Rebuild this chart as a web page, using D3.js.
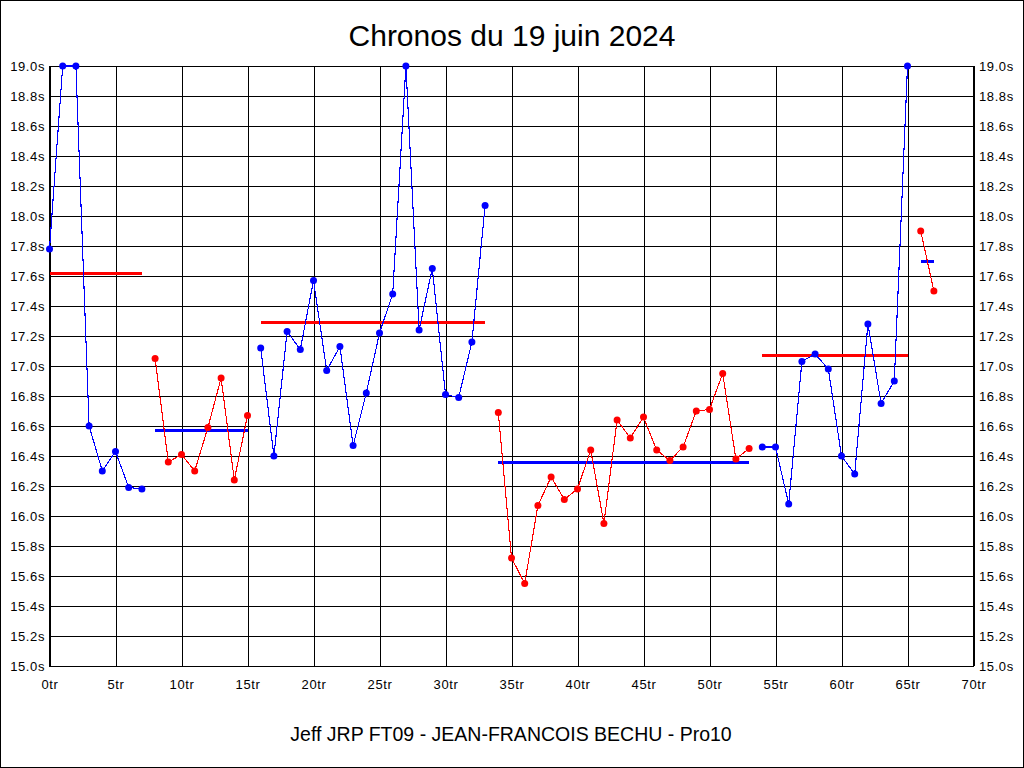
<!DOCTYPE html>
<html>
<head>
<meta charset="utf-8">
<script src="https://cdn.jsdelivr.net/npm/d3@7"></script>
<style>
  html, body { margin: 0; padding: 0; background: #fff; }
  svg { display: block; }
  .tick text { font-family: "Liberation Sans", Arial, sans-serif; font-size: 13px; letter-spacing: 0.6px; fill: #000; }
</style>
</head>
<body>
<script>
// ---- data ----
const chartTitle = "Chronos du 19 juin 2024";
const chartFooter = "Jeff JRP FT09 - JEAN-FRANCOIS BECHU - Pro10";

// lap time (seconds) by lap number 0..67
const lapTimes = [
  17.78, 19.00, 19.00, 16.60, 16.30, 16.43, 16.19, 16.18,            // stint 1 (laps 0-7)
  17.05, 16.36, 16.41, 16.30, 16.59, 16.92, 16.24, 16.67,            // stint 2 (laps 8-15)
  17.12, 16.40, 17.23, 17.11, 17.57, 16.97, 17.13, 16.47, 16.82,     // stint 3 (laps 16-33)
  17.22, 17.48, 19.00, 17.24, 17.65, 16.81, 16.79, 17.16, 18.07,
  16.69, 15.72, 15.55, 16.07, 16.26, 16.11, 16.18, 16.44, 15.95,     // stint 4 (laps 34-53)
  16.64, 16.52, 16.66, 16.44, 16.37, 16.46, 16.70, 16.71, 16.95, 16.38, 16.45,
  16.46, 16.46, 16.08, 17.03, 17.08, 16.98, 16.40, 16.28, 17.28,     // stint 5 (laps 54-65)
  16.75, 16.90, 19.00,
  17.90, 17.50                                                         // stint 6 (laps 66-67)
];
const stintFirstLap = [0, 8, 16, 34, 54, 66];
const stintLastLap  = [7, 15, 33, 53, 65, 67];
const stintAverage  = [17.62, 16.57, 17.29, 16.36, 17.07, 17.70];

const xTickValues = [0, 5, 10, 15, 20, 25, 30, 35, 40, 45, 50, 55, 60, 65, 70];
const yTickValues = [15.0, 15.2, 15.4, 15.6, 15.8, 16.0, 16.2, 16.4, 16.6, 16.8, 17.0,
                     17.2, 17.4, 17.6, 17.8, 18.0, 18.2, 18.4, 18.6, 18.8, 19.0];
const xDomain = [0, 70];
const yDomain = [15.0, 19.0];

// ---- layout ----
const W = 1024, H = 768;
const m = { left: 49, right: 1024 - 973, top: 66, bottom: 768 - 666 };
const pw = W - m.left - m.right, ph = H - m.top - m.bottom;
const colA = "#0000ff", colB = "#ff0000";

const svg = d3.select("body").append("svg").attr("width", W).attr("height", H);
svg.append("rect").attr("x", 0.5).attr("y", 0.5).attr("width", W - 1).attr("height", H - 1)
  .attr("fill", "#fff").attr("stroke", "#000").attr("stroke-width", 1);

const x = d3.scaleLinear().domain(xDomain).range([m.left + 0.5, m.left + pw + 0.5]);
const y = d3.scaleLinear().domain(yDomain).range([m.top + ph, m.top]);

const fmtY = v => d3.format(".1f")(v) + "s";
const fmtX = v => v + "tr";

// grid + left labels
const gL = svg.append("g").attr("transform", `translate(${m.left},0)`)
  .call(d3.axisLeft(y).tickValues(yTickValues).tickFormat(fmtY).tickSize(-pw).tickPadding(4));
gL.select(".domain").remove();
gL.selectAll(".tick line").attr("stroke", "#000").attr("shape-rendering", "crispEdges");

// right labels
const gR = svg.append("g").attr("transform", `translate(${m.left + pw},0)`)
  .call(d3.axisRight(y).tickValues(yTickValues).tickFormat(fmtY).tickSize(0).tickPadding(6));
gR.select(".domain").remove();

// bottom grid + labels
const gB = svg.append("g").attr("transform", `translate(0,${m.top + ph})`)
  .call(d3.axisBottom(x).tickValues(xTickValues).tickFormat(fmtX).tickSize(-ph).tickPadding(14));
gB.select(".domain").remove();
gB.selectAll(".tick line").attr("stroke", "#000").attr("shape-rendering", "crispEdges");

// frame
svg.append("rect").attr("x", m.left + 0.5).attr("y", m.top + 0.5).attr("width", pw).attr("height", ph)
  .attr("fill", "none").attr("stroke", "#000").attr("shape-rendering", "crispEdges");

// clip
svg.append("clipPath").attr("id", "clip").append("rect")
  .attr("x", m.left - 5).attr("y", m.top - 5).attr("width", pw + 10).attr("height", ph + 10);

const plot = svg.append("g").attr("clip-path", "url(#clip)");
const line = d3.line().x(d => x(d.lap)).y(d => y(d.t));

stintFirstLap.forEach((first, i) => {
  const last = stintLastLap[i];
  const pts = d3.range(first, last + 1).map(l => ({ lap: l, t: lapTimes[l] }));
  const c = i % 2 === 0 ? colA : colB;
  const ca = i % 2 === 0 ? colB : colA;
  // average line
  plot.append("line")
    .attr("x1", x(first)).attr("x2", x(last))
    .attr("y1", y(stintAverage[i])).attr("y2", y(stintAverage[i]))
    .attr("stroke", ca).attr("stroke-width", 3).attr("shape-rendering", "crispEdges");
  plot.append("path").datum(pts).attr("d", line)
    .attr("fill", "none").attr("stroke", c).attr("stroke-width", 1.1)
    .attr("shape-rendering", "crispEdges");
  plot.selectAll(null).data(pts).enter().append("circle")
    .attr("cx", d => x(d.lap)).attr("cy", d => y(d.t)).attr("r", 3.5).attr("fill", c);
});

// titles
svg.append("text").attr("x", 512).attr("y", 46).attr("text-anchor", "middle")
  .attr("font-family", "'Liberation Sans', Arial, sans-serif").attr("font-size", 30)
  .attr("fill", "#000").text(chartTitle);
svg.append("text").attr("x", 511).attr("y", 741).attr("text-anchor", "middle")
  .attr("font-family", "'Liberation Sans', Arial, sans-serif").attr("font-size", 19.5)
  .attr("fill", "#000").text(chartFooter);
</script>
</body>
</html>
